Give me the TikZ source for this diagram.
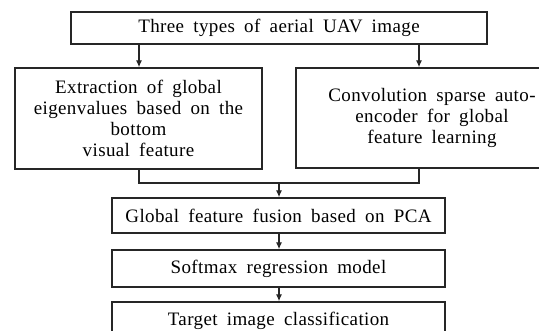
\documentclass[tikz,border=0pt]{standalone}
\usepackage{fontspec}
\setmainfont{Liberation Serif}[LetterSpace=2,WordSpace=1.8]
\usetikzlibrary{arrows.meta}
\begin{document}
\begin{tikzpicture}[x=1pt,y=-1pt,
  box/.style={draw=black!85, line width=1.3pt, align=center, inner sep=0pt,
    font=\fontsize{19}{21}\selectfont},
  link/.style={draw=black!85, line width=1.3pt},
  arr/.style={link, -{Latex[length=7pt,width=6pt]}}]
\useasboundingbox (0,0) rectangle (539,331);
\clip (0,0) rectangle (539,331);
\fill[white] (0,0) rectangle (539,331);
\node[box, minimum width=416pt, minimum height=32pt] (top) at (279,28) {Three types of aerial UAV image};
\node[box, minimum width=247pt, minimum height=101pt] (left) at (138.5,118.5)
  {Extraction of global\\eigenvalues based on the\\bottom\\visual feature};
\node[box, minimum width=272pt, minimum height=100pt] (right) at (432,118)
  {Convolution sparse auto-\\encoder for global\\feature learning};
\node[box, minimum width=333pt, minimum height=35pt] (fuse) at (278.5,215.5) {Global feature fusion based on PCA};
\node[box, minimum width=333pt, minimum height=37pt] (soft) at (278.5,268.5) {Softmax regression model};
\node[box, minimum width=333pt, minimum height=38pt] (target) at (278.5,321) {Target image classification};
\coordinate (la) at (139,0);
\coordinate (ra) at (419,0);
\coordinate (mid) at (279,183);
\draw[arr] (top.south -| la) -- (left.north -| la);
\draw[arr] (top.south -| ra) -- (right.north -| ra);
\draw[link] (left.south -| la) |- (mid) -| (right.south -| ra);
\draw[arr] (mid) -- (fuse.north -| mid);
\draw[arr] (fuse.south -| mid) -- (soft.north -| mid);
\draw[arr] (soft.south -| mid) -- (target.north -| mid);
\end{tikzpicture}
\end{document}
